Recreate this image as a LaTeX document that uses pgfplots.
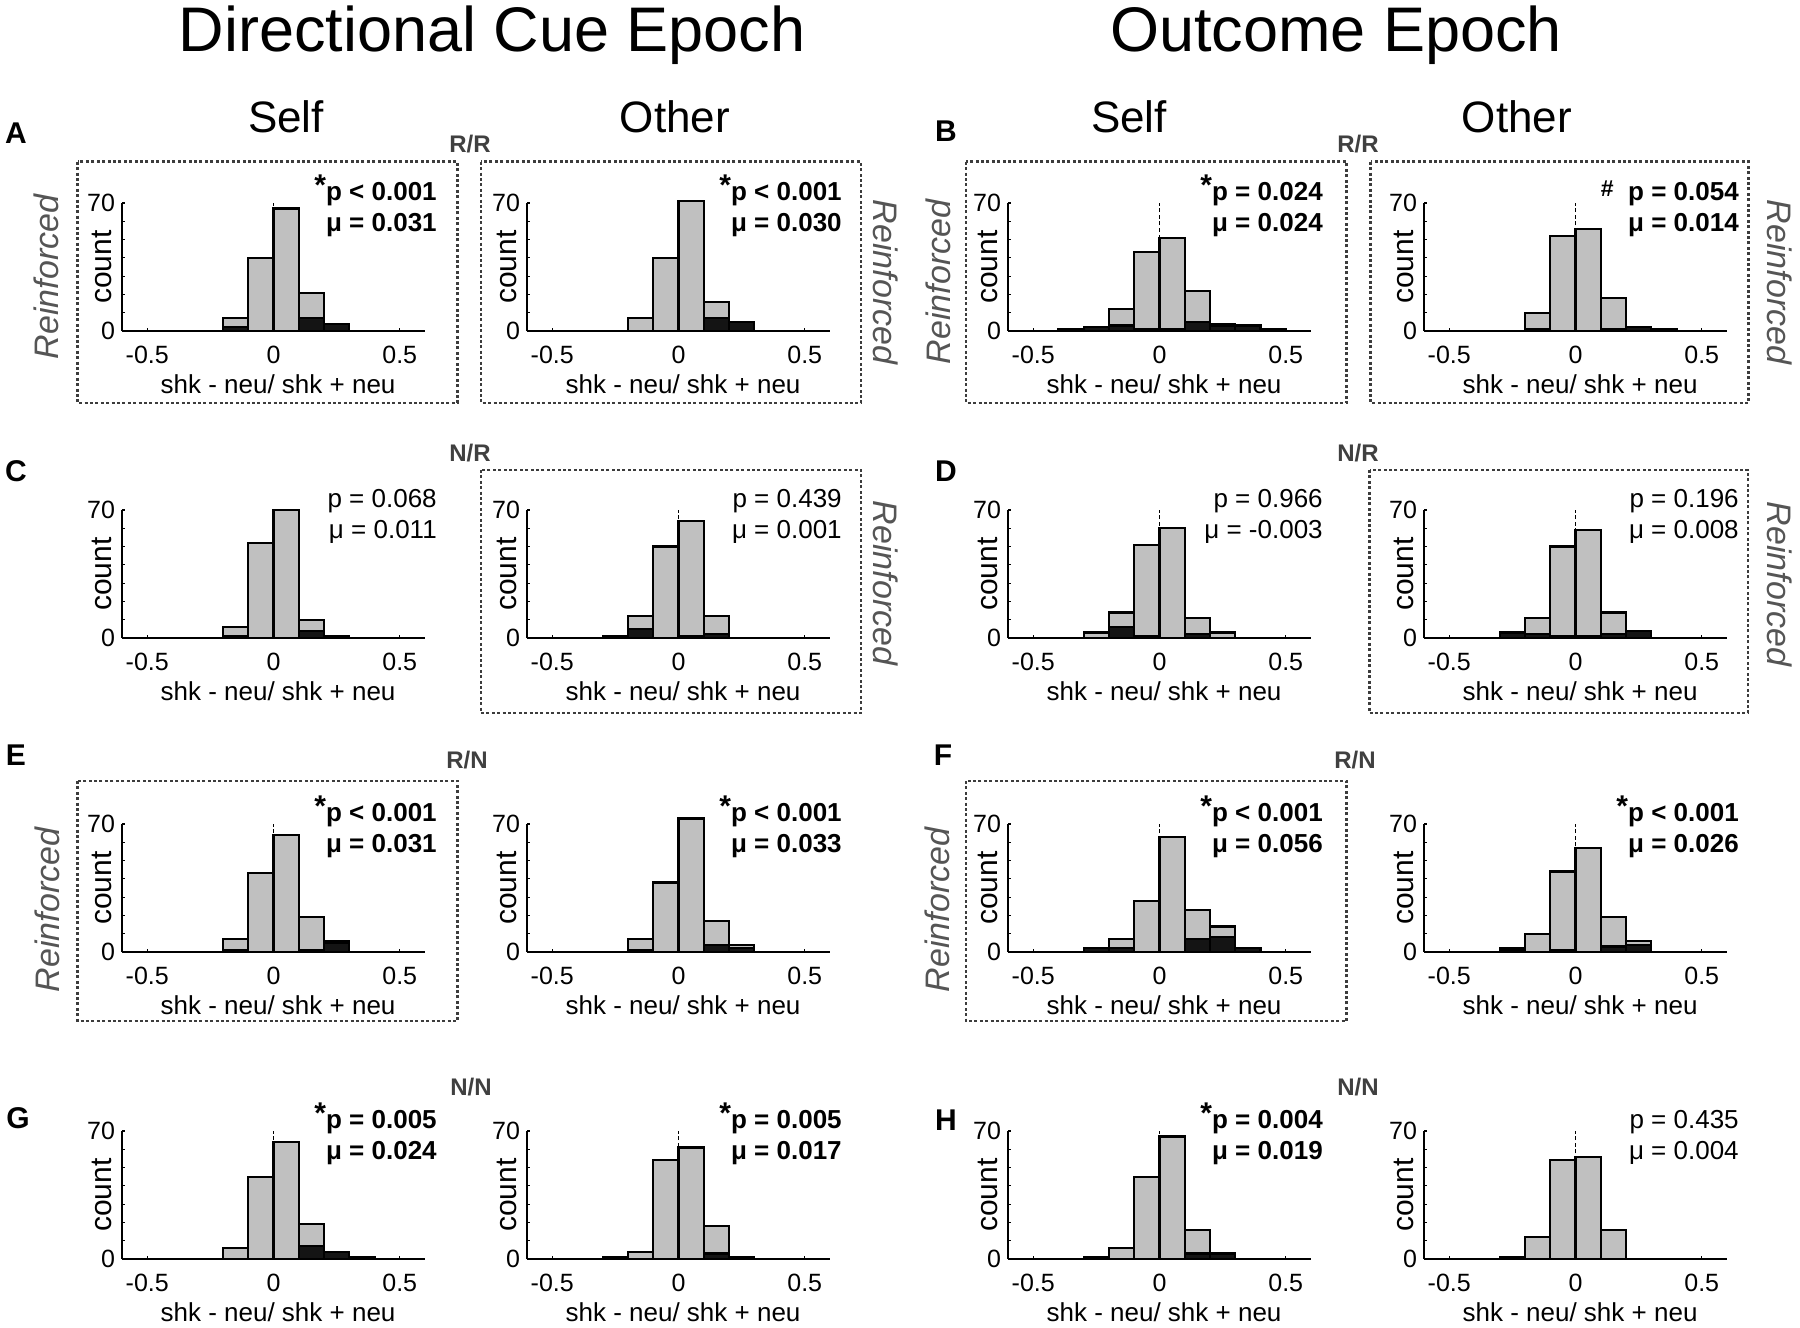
\documentclass[border=0pt]{standalone}
\usepackage{fontspec}
\setmainfont{Liberation Sans}
\usepackage{pgfplots}
\pgfplotsset{compat=1.18}
\definecolor{barg}{HTML}{C0C0C0}
\definecolor{bark}{HTML}{141414}
\definecolor{reinf}{HTML}{555555}
\definecolor{cond}{HTML}{404040}
\definecolor{boxc}{HTML}{3C3C3C}
\pgfplotsset{
  mhist/.style={
    anchor=south west,
    width=151.5pt, height=64pt, scale only axis,
    xmin=-0.6, xmax=0.6, ymin=0, ymax=70,
    axis x line*=bottom, axis y line*=left,
    axis line style={-, line width=1.1pt, black},
    xtick={-0.5,0,0.5}, xticklabels={-0.5,0,0.5},
    ytick={0,10,...,70}, yticklabels={0,,,,,,,70},
    tick align=inside, major tick length=1.5pt,
    tick style={line width=0.6pt, black},
    tick label style={font=\fontsize{12.5}{14}\selectfont},
    xticklabel style={yshift=-4pt},
    xlabel={shk - neu/ shk + neu}, ylabel={count},
    xlabel style={font=\fontsize{13}{15}\selectfont, at={(axis description cs:0.515,0)}, anchor=base, yshift=-31pt},
    ylabel style={font=\fontsize{15}{17}\selectfont, at={(axis description cs:-0.034,0.5)}, anchor=base},
    clip=false,
  },
  gbar/.style={ybar interval, fill=barg, draw=black, line width=1.1pt},
  kbar/.style={ybar interval, fill=bark, draw=black, line width=1.1pt},
  zline/.style={black, line width=0.9pt, dash pattern=on 2pt off 1.3pt},
}
\tikzset{pl/.style={anchor=base east, inner sep=0pt, font=\fontsize{13}{15}\selectfont}}
\newcommand{\st}{{\fontsize{15}{15}\selectfont\raisebox{2.5pt}{*}}}
\newcommand{\panel}[6]{%
\begin{axis}[mhist, at={(#1,#2)}]
\addplot[gbar] coordinates {#3};
\addplot[kbar] coordinates {#4};
\addplot[zline] coordinates {(0,0) (0,70)};
\node[pl] at (rel axis cs:1.04,1.02) {#5};
\node[pl] at (rel axis cs:1.04,0.78) {#6};
\end{axis}}
\begin{document}
\begin{tikzpicture}
\useasboundingbox (0,0) rectangle (900pt,-664pt);
% Row 1
\panel{61pt}{-165.5pt}{(-0.2,7) (-0.1,40) (0,67) (0.1,21) (0.2,4) (0.3,0)}{(-0.2,2) (-0.1,0) (0,0) (0.1,7) (0.2,4) (0.3,0)}{\bfseries\st p < 0.001}{\bfseries μ = 0.031}
\panel{263.5pt}{-165.5pt}{(-0.2,7) (-0.1,40) (0,71) (0.1,16) (0.2,5) (0.3,0)}{(-0.2,0) (-0.1,0) (0,0) (0.1,7) (0.2,5) (0.3,0)}{\bfseries\st p < 0.001}{\bfseries μ = 0.030}
\panel{504pt}{-165.5pt}{(-0.4,1) (-0.3,2) (-0.2,12) (-0.1,43) (0,51) (0.1,22) (0.2,4) (0.3,3) (0.4,1) (0.5,0)}{(-0.4,1) (-0.3,2) (-0.2,3) (-0.1,1) (0,1) (0.1,5) (0.2,3) (0.3,3) (0.4,1) (0.5,0)}{\bfseries\st p = 0.024}{\bfseries μ = 0.024}
\panel{712pt}{-165.5pt}{(-0.2,10) (-0.1,52) (0,56) (0.1,18) (0.2,2) (0.3,1) (0.4,0)}{(-0.2,1) (-0.1,0) (0,0) (0.1,1) (0.2,2) (0.3,1) (0.4,0)}{\bfseries{\fontsize{11.5}{11.5}\selectfont\raisebox{2pt}{\#}}\ \ p = 0.054}{\bfseries μ = 0.014}
% Row 2
\panel{61pt}{-319pt}{(-0.2,6) (-0.1,52) (0,70) (0.1,10) (0.2,1) (0.3,0)}{(-0.2,1) (-0.1,0) (0,0) (0.1,4) (0.2,1) (0.3,0)}{p = 0.068}{μ = 0.011}
\panel{263.5pt}{-319pt}{(-0.3,1) (-0.2,12) (-0.1,50) (0,64) (0.1,12) (0.2,0)}{(-0.3,1) (-0.2,5) (-0.1,0) (0,1) (0.1,2) (0.2,0)}{p = 0.439}{μ = 0.001}
\panel{504pt}{-319pt}{(-0.3,3) (-0.2,14) (-0.1,51) (0,60) (0.1,11) (0.2,3) (0.3,0)}{(-0.3,0) (-0.2,6) (-0.1,1) (0,0) (0.1,2) (0.2,0) (0.3,0)}{p = 0.966}{μ = -0.003}
\panel{712pt}{-319pt}{(-0.3,3) (-0.2,11) (-0.1,50) (0,59) (0.1,14) (0.2,4) (0.3,0)}{(-0.3,3) (-0.2,2) (-0.1,1) (0,1) (0.1,2) (0.2,4) (0.3,0)}{p = 0.196}{μ = 0.008}
% Row 3
\panel{61pt}{-476pt}{(-0.2,7) (-0.1,43) (0,64) (0.1,19) (0.2,6) (0.3,0)}{(-0.2,1) (-0.1,0) (0,0) (0.1,1) (0.2,5) (0.3,0)}{\bfseries\st p < 0.001}{\bfseries μ = 0.031}
\panel{263.5pt}{-476pt}{(-0.2,7) (-0.1,38) (0,73) (0.1,17) (0.2,4) (0.3,0)}{(-0.2,1) (-0.1,0) (0,0) (0.1,4) (0.2,2) (0.3,0)}{\bfseries\st p < 0.001}{\bfseries μ = 0.033}
\panel{504pt}{-476pt}{(-0.3,2) (-0.2,7) (-0.1,28) (0,63) (0.1,23) (0.2,14) (0.3,2) (0.4,0)}{(-0.3,2) (-0.2,2) (-0.1,0) (0,0) (0.1,7) (0.2,8) (0.3,2) (0.4,0)}{\bfseries\st p < 0.001}{\bfseries μ = 0.056}
\panel{712pt}{-476pt}{(-0.3,2) (-0.2,10) (-0.1,44) (0,57) (0.1,19) (0.2,6) (0.3,0)}{(-0.3,1) (-0.2,0) (-0.1,1) (0,0) (0.1,3) (0.2,4) (0.3,0)}{\bfseries\st p < 0.001}{\bfseries μ = 0.026}
% Row 4
\panel{61pt}{-629.5pt}{(-0.2,6) (-0.1,45) (0,64) (0.1,19) (0.2,4) (0.3,1) (0.4,0)}{(-0.2,0) (-0.1,0) (0,0) (0.1,7) (0.2,4) (0.3,1) (0.4,0)}{\bfseries\st p = 0.005}{\bfseries μ = 0.024}
\panel{263.5pt}{-629.5pt}{(-0.3,1) (-0.2,4) (-0.1,54) (0,61) (0.1,18) (0.2,1) (0.3,0)}{(-0.3,1) (-0.2,0) (-0.1,0) (0,0) (0.1,3) (0.2,1) (0.3,0)}{\bfseries\st p = 0.005}{\bfseries μ = 0.017}
\panel{504pt}{-629.5pt}{(-0.3,1) (-0.2,6) (-0.1,45) (0,67) (0.1,16) (0.2,3) (0.3,0)}{(-0.3,1) (-0.2,0) (-0.1,0) (0,0) (0.1,3) (0.2,3) (0.3,0)}{\bfseries\st p = 0.004}{\bfseries μ = 0.019}
\panel{712pt}{-629.5pt}{(-0.3,1) (-0.2,12) (-0.1,54) (0,56) (0.1,16) (0.2,0)}{(-0.3,1) (-0.2,0) (-0.1,0) (0,0) (0.1,0) (0.2,0)}{p = 0.435}{μ = 0.004}
\begin{scope}[x=0.5pt,y=-0.5pt]
% titles
\node[anchor=base, font=\fontsize{31.5}{34}\selectfont] at (492,51) {Directional Cue Epoch};
\node[anchor=base, font=\fontsize{31.5}{34}\selectfont] at (1336,51) {Outcome Epoch};
\foreach \x/\t in {286/Self, 675/Other, 1129/Self, 1517/Other}
  \node[anchor=base, font=\fontsize{22}{24}\selectfont] at (\x,132) {\t};
% panel letters
\foreach \x/\y/\t in {16/133/A, 946/131/B, 16/471/C, 946/471/D, 16/755/E, 943/755/F, 18/1118/G, 946/1120/H}
  \node[font=\fontsize{15}{17}\selectfont\bfseries] at (\x,\y) {\t};
% condition labels
\tikzset{cl/.style={text=cond, font=\fontsize{12}{14}\selectfont\bfseries}}
\node[cl] at (470,144.5) {R/R};
\node[cl] at (1358,144.5) {R/R};
\node[cl] at (470,453.5) {N/R};
\node[cl] at (1358,453.5) {N/R};
\node[cl] at (467,760.5) {R/N};
\node[cl] at (1355,760.5) {R/N};
\node[cl] at (471,1087) {N/N};
\node[cl] at (1358,1087) {N/N};
% dotted boxes
\tikzset{dbox/.style={boxc, line width=1.3pt, dash pattern=on 1.5pt off 1.2pt}}
\draw[dbox] (77.5,161.7) rectangle (457.5,403);
\draw[dbox] (481,161.7) rectangle (861,403);
\draw[dbox] (966,161.7) rectangle (1346.6,403);
\draw[dbox] (1370.7,161.7) rectangle (1748.4,403);
\draw[dbox] (481,470) rectangle (861,713);
\draw[dbox] (1369.6,470) rectangle (1748,713);
\draw[dbox] (77.5,781) rectangle (457.5,1021);
\draw[dbox] (966,781) rectangle (1346.6,1021);
% Reinforced labels
\tikzset{rf/.style={text=reinf, font=\fontsize{17}{19}\selectfont\itshape}}
\node[rf, rotate=90] at (46,277) {Reinforced};
\node[rf, rotate=-90] at (886,282) {Reinforced};
\node[rf, rotate=90] at (938,282) {Reinforced};
\node[rf, rotate=-90] at (1780,282) {Reinforced};
\node[rf, rotate=-90] at (886,583) {Reinforced};
\node[rf, rotate=-90] at (1780,584) {Reinforced};
\node[rf, rotate=90] at (47,910) {Reinforced};
\node[rf, rotate=90] at (937,910) {Reinforced};
\end{scope}
\end{tikzpicture}
\end{document}
